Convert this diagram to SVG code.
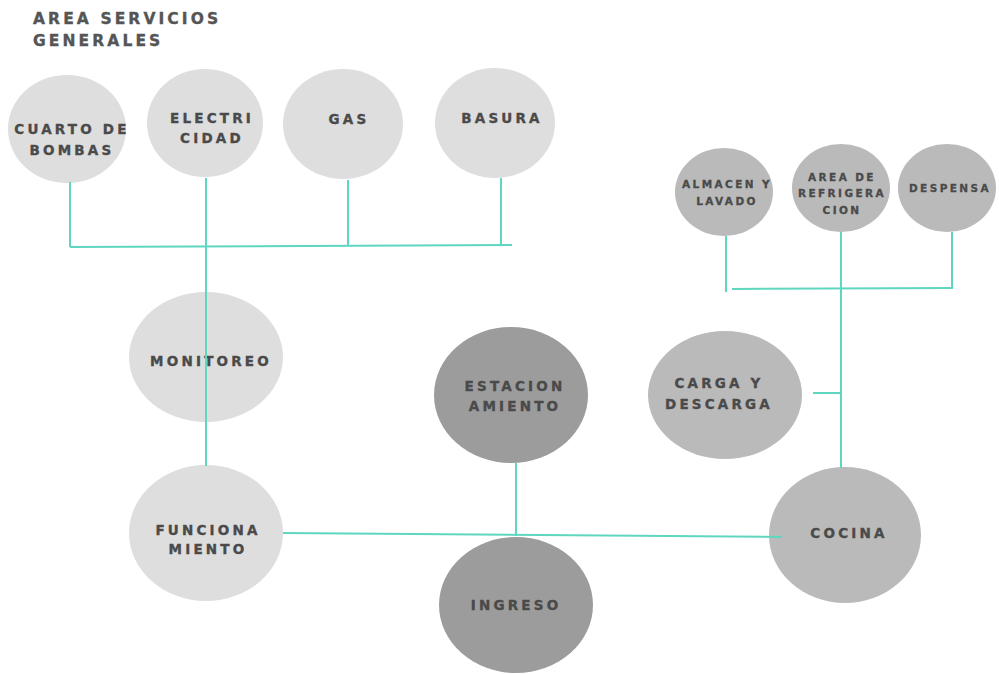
<svg xmlns="http://www.w3.org/2000/svg" width="999" height="674" viewBox="0 0 999 674">
<style>
.l1{fill:#dedede}
.l2{fill:#bababa}
.l3{fill:#9c9c9c}
.t{font-family:"DejaVu Sans",sans-serif;font-weight:bold;font-size:13.5px;letter-spacing:3.2px;fill:#4a4a4a;stroke:#4a4a4a;stroke-width:0.35px;text-anchor:middle}
.s{font-family:"DejaVu Sans",sans-serif;font-weight:bold;font-size:10.5px;letter-spacing:2.4px;fill:#4a4a4a;stroke:#4a4a4a;stroke-width:0.3px;text-anchor:middle}
.title{font-family:"DejaVu Sans",sans-serif;font-weight:bold;font-size:15.5px;letter-spacing:3.1px;fill:#555555;stroke:#555555;stroke-width:0.35px}
.c{stroke:#5fd6c0;stroke-width:2;fill:none}
</style>
<rect width="999" height="674" fill="#ffffff"/>
<g id="title">
<text class="title" x="33" y="24">AREA SERVICIOS</text>
<text class="title" x="33" y="46">GENERALES</text>
</g>
<g id="cuarto-bombas">
<ellipse class="l1" cx="67" cy="129" rx="59" ry="54"/>
<text class="t" x="72" y="134">CUARTO DE</text>
<text class="t" x="72" y="155">BOMBAS</text>
</g>
<g id="electricidad">
<ellipse class="l1" cx="205" cy="123" rx="58" ry="54"/>
<text class="t" x="212" y="123">ELECTRI</text>
<text class="t" x="212" y="143">CIDAD</text>
</g>
<g id="gas">
<ellipse class="l1" cx="343" cy="124" rx="60" ry="55"/>
<text class="t" x="349" y="124">GAS</text>
</g>
<g id="basura">
<ellipse class="l1" cx="495" cy="123" rx="60" ry="55"/>
<text class="t" x="502" y="123">BASURA</text>
</g>
<g id="almacen-lavado">
<ellipse class="l2" cx="724" cy="192" rx="49" ry="44"/>
<text class="s" x="727" y="188">ALMACEN Y</text>
<text class="s" x="727" y="205">LAVADO</text>
</g>
<g id="area-refrigeracion">
<ellipse class="l2" cx="841" cy="188" rx="49" ry="44"/>
<text class="s" x="842" y="181">AREA DE</text>
<text class="s" x="842" y="197">REFRIGERA</text>
<text class="s" x="842" y="214">CION</text>
</g>
<g id="despensa">
<ellipse class="l2" cx="947" cy="188" rx="49" ry="44"/>
<text class="s" x="950" y="192">DESPENSA</text>
</g>
<g id="monitoreo">
<ellipse class="l1" cx="206" cy="357" rx="77" ry="65"/>
<text class="t" x="211" y="366">MONITOREO</text>
</g>
<g id="estacionamiento">
<ellipse class="l3" cx="511" cy="395" rx="77" ry="68"/>
<text class="t" x="515" y="391">ESTACION</text>
<text class="t" x="515" y="411">AMIENTO</text>
</g>
<g id="carga-descarga">
<ellipse class="l2" cx="725" cy="395" rx="77" ry="64"/>
<text class="t" x="719" y="388">CARGA Y</text>
<text class="t" x="719" y="409">DESCARGA</text>
</g>
<g id="funcionamiento">
<ellipse class="l1" cx="206" cy="533" rx="77" ry="68"/>
<text class="t" x="208" y="535">FUNCIONA</text>
<text class="t" x="208" y="554">MIENTO</text>
</g>
<g id="cocina">
<ellipse class="l2" cx="845" cy="535" rx="76" ry="68"/>
<text class="t" x="849" y="538">COCINA</text>
</g>
<g id="ingreso">
<ellipse class="l3" cx="516" cy="605" rx="77" ry="68"/>
<text class="t" x="516" y="610">INGRESO</text>
</g>
<g id="connectors">
<line class="c" x1="70" y1="182" x2="70" y2="247"/>
<line class="c" x1="348" y1="180" x2="348" y2="245"/>
<line class="c" x1="501" y1="178" x2="501" y2="245"/>
<line class="c" x1="70" y1="247" x2="512" y2="245"/>
<line class="c" x1="206" y1="178" x2="206" y2="466"/>
<line class="c" x1="726" y1="236" x2="726" y2="292"/>
<line class="c" x1="952" y1="232" x2="952" y2="289"/>
<line class="c" x1="732" y1="289" x2="953" y2="288"/>
<line class="c" x1="841" y1="232" x2="841" y2="468"/>
<line class="c" x1="813" y1="393" x2="841" y2="393"/>
<line class="c" x1="283" y1="533" x2="782" y2="537"/>
<line class="c" x1="516" y1="463" x2="516" y2="536"/>
</g>
</svg>
